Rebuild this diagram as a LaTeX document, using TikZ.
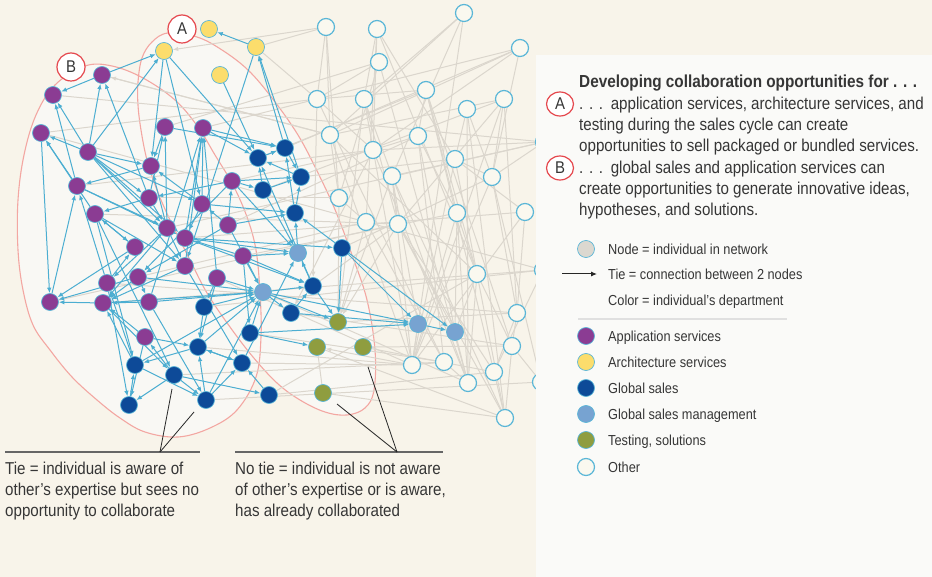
\documentclass[tikz,border=0pt]{standalone}
\usepackage{fontspec}
\newfontfamily\condf[FakeStretch=0.88]{Liberation Sans}
\usetikzlibrary{arrows.meta,shapes.geometric}
\definecolor{bgc}{HTML}{F8F4EA}
\definecolor{panelc}{HTML}{FAFAF8}
\definecolor{ellfill}{HTML}{F9F8F4}
\definecolor{ellline}{HTML}{F3A7A2}
\definecolor{labred}{HTML}{E5474D}
\definecolor{appc}{HTML}{8B3C93}
\definecolor{archc}{HTML}{FCDD6C}
\definecolor{gsc}{HTML}{0D4A98}
\definecolor{gsmc}{HTML}{77A3D1}
\definecolor{testc}{HTML}{8F9D3F}
\definecolor{othc}{HTML}{FAF8EF}
\definecolor{ringc}{HTML}{5AB6D7}
\definecolor{tiec}{HTML}{4CAED1}
\definecolor{grayt}{HTML}{DBD6CD}
\definecolor{txtc}{HTML}{363636}
\definecolor{nodegray}{HTML}{DCD8D0}
\pgfdeclarelayer{ell}
\pgfdeclarelayer{gedge}
\pgfdeclarelayer{bedge}
\pgfdeclarelayer{front}
\pgfsetlayers{ell,gedge,bedge,main,front}
\tikzset{
  nd/.style={circle, minimum size=17pt, inner sep=0pt, draw=ringc, line width=0.7pt},
  app/.style={nd, fill=appc},
  arch/.style={nd, fill=archc},
  gs/.style={nd, fill=gsc},
  gsm/.style={nd, fill=gsmc},
  tst/.style={nd, fill=testc},
  oth/.style={nd, fill=othc, line width=1.2pt},
  gry/.style={nd, fill=nodegray},
  tie/.style={draw=tiec, line width=1pt, -{Latex[length=5.5pt,width=4.5pt]}},
  gtie/.style={draw=grayt, line width=1pt},
  gtiea/.style={draw=grayt, line width=1pt, -{Latex[length=5.5pt,width=4.5pt]}},
  lab/.style={circle, draw=labred, line width=1.2pt, fill=white, minimum size=28pt, inner sep=0pt, text=txtc, font=\condf\fontsize{17}{17}\selectfont},
  leglab/.style={ellipse, draw=labred, line width=1.2pt, fill=white, minimum width=27pt, minimum height=24pt, inner sep=0pt, text=txtc, font=\condf\fontsize{17}{17}\selectfont},
  txt/.style={anchor=base west, inner sep=0pt, text=txtc, font=\condf\fontsize{17.2}{21}\selectfont},
  hdr/.style={txt, font=\condf\bfseries\fontsize{17.4}{21}\selectfont},
  legtxt/.style={anchor=base west, inner sep=0pt, text=txtc, font=\condf\fontsize{14.5}{17}\selectfont},
  leader/.style={draw=black!85, line width=0.8pt},
  rule/.style={draw=black!60, line width=1.4pt},
}
\begin{document}
\begin{tikzpicture}[x=1pt,y=-1pt]
\useasboundingbox (0,0) rectangle (932,577);
\begin{pgfonlayer}{ell}
\fill[bgc] (0,0) rectangle (932,577);
\fill[ellfill] plot[smooth cycle, tension=0.6] coordinates {(85,66) (112,66) (143,78) (175,100) (198,127) (215,155) (233,185) (247,217) (256,250) (260,293) (261,337) (256,377) (237,410) (210,428) (178,437) (145,432) (120,418) (97,400) (72,377) (50,350) (33,325) (23,290) (18,250) (18,200) (24,155) (36,115) (55,85)};
\fill[ellfill] plot[smooth cycle, tension=0.6] coordinates {(168,33) (152,42) (142,58) (138,82) (138,105) (141,130) (147,160) (157,190) (170,220) (190,260) (207,293) (230,327) (253,357) (277,383) (300,400) (325,412) (347,415) (365,408) (374,390) (375,350) (367,300) (352,255) (336,212) (319,175) (298,135) (272,98) (248,70) (222,50) (197,37)};
\draw[ellline, line width=1.1pt] plot[smooth cycle, tension=0.6] coordinates {(85,66) (112,66) (143,78) (175,100) (198,127) (215,155) (233,185) (247,217) (256,250) (260,293) (261,337) (256,377) (237,410) (210,428) (178,437) (145,432) (120,418) (97,400) (72,377) (50,350) (33,325) (23,290) (18,250) (18,200) (24,155) (36,115) (55,85)};
\draw[ellline, line width=1.1pt] plot[smooth cycle, tension=0.6] coordinates {(168,33) (152,42) (142,58) (138,82) (138,105) (141,130) (147,160) (157,190) (170,220) (190,260) (207,293) (230,327) (253,357) (277,383) (300,400) (325,412) (347,415) (365,408) (374,390) (375,350) (367,300) (352,255) (336,212) (319,175) (298,135) (272,98) (248,70) (222,50) (197,37)};
\end{pgfonlayer}
% nodes
\foreach \n/\x/\y in {Y1/209/29, Y2/164/51, Y3/256/47, Y4/220/75}
  \node[arch] (\n) at (\x,\y) {};
\foreach \n/\x/\y in {P1/102/75, P2/53/95, P3/41/133, P4/88/152, P5/165/127, P6/203/128, P7/151/166, P8/77/186, P9/95/214, P10/149/198, P11/202/204, P12/232/181, P13/167/228, P14/185/238, P15/228/225, P16/135/247, P17/243/256, P18/185/266, P19/138/277, P20/217/278, P21/107/283, P22/149/302, P23/50/302, P24/103/303, P25/145/337}
  \node[app] (\n) at (\x,\y) {};
\foreach \n/\x/\y in {G1/204/307, G2/250/333, G3/198/347, G4/135/365, G5/174/375, G6/242/363, G7/129/405, G8/206/400, G9/269/395, G10/295/213, G11/313/286, G12/291/313, G13/258/158, G14/285/148, G15/301/177, G16/263/190, G17/342/248}
  \node[gs] (\n) at (\x,\y) {};
\foreach \n/\x/\y in {L1/298/253, L2/263/292, L3/418/324, L4/455/332}
  \node[gsm] (\n) at (\x,\y) {};
\foreach \n/\x/\y in {T1/338/322, T2/317/347, T3/363/347, T4/323/393}
  \node[tst] (\n) at (\x,\y) {};
\foreach \n/\x/\y in {O1/326/27, O2/377/29, O3/464/13, O4/379/62, O5/520/48, O6/317/99, O7/364/99, O8/426/90, O9/467/109, O10/504/99, O11/330/135, O12/373/150, O13/418/136, O14/455/159, O15/392/176, O16/492/177, O17/339/198, O18/525/212, O19/457/213, O20/366/222, O21/398/224, O22/477/274, O23/543/270, O24/517/313, O25/512/346, O26/412/365, O27/444/362, O28/468/383, O29/494/372, O30/541/382, O31/505/418, O32/544/142}
  \node[oth] (\n) at (\x,\y) {};
% gray ties
\begin{pgfonlayer}{gedge}
\foreach \a/\b in {O1/O6, O1/O11, O1/O17, O2/O7, O2/O12, O2/O14, O2/O22, O2/O20, O3/O7, O3/O15, O3/O11, O3/O26, O4/O17, O4/O6, O5/O16, O5/O12, O5/O6, O5/O11, O6/P3, O7/O21, O7/O26, O7/O28, O8/O13, O8/O19, O8/O25, O8/O22, O8/O6, O9/O16, O9/O14, O9/O28, O9/O31, O10/O11, O10/O24, O10/O16, O10/O26, O11/O17, O11/O26, O12/O13, O12/O6, O13/O19, O13/O27, O14/O16, O14/O18, O14/O22, O15/O21, O15/O26, O15/O31, O16/O24, O16/O30, O17/O20, O18/O24, O19/O22, O19/O28, O20/O27, O21/O31, O21/O29, O22/O28, O22/O25, O22/O31, O24/O25, O24/O29, O25/O30, O25/O31, O26/O27, O27/O28, O29/O31, O23/O29, O23/O20, O32/O16, O32/O12, O32/O15, O18/O26, O19/O26, O12/O28, O4/O28, O8/O29, O6/O27, O11/O22, O14/O26, O10/O21, O16/O26, P6/O6, P12/O12, P15/O13, P17/O19, P20/O26, G6/O26, G9/O22, G2/O27, P14/O18, G12/O25, L2/O28, G11/O21, T3/O29, T2/O31, T4/O31, T4/T2, G5/O27, G8/O30, P21/O24, P5/O4, G13/O8, G15/O14, G17/O16, L4/O22, L4/O19, L4/O13, L4/O21, L3/O15, L3/O26, L4/O28, T1/O24, T3/O25, G9/O29, P24/O23, P19/O20, P23/O21, G3/O26, G1/O23, P10/O17, P13/O32, G16/O10, G14/O5, Y3/O1, Y3/O6, P3/O20, P8/O12, P9/O21, P2/O32, P1/O11}
  \draw[gtie] (\a) -- (\b);
\foreach \a/\b in {O1/Y2, O11/P1, O17/T1, O20/T1, O15/T1, O21/T1, O26/T2, O7/T1, O12/G12, O6/G11}
  \draw[gtiea] (\a) -- (\b);
\end{pgfonlayer}
% blue ties
\begin{pgfonlayer}{bedge}
\foreach \a/\b in {Y3/Y1, P1/P2, P1/Y2, P4/P1, P4/P2, P4/P3, P4/Y2, P8/P3, P8/P2, P9/P3, P10/P1, Y2/P7, Y2/P11, Y2/G13, Y4/G13, G14/Y3, G15/Y3, Y3/P18, P5/P7, P13/P5, P10/P5, P18/P6, P14/P6, P11/P6, P20/P6, P22/P6, P6/G13, P6/G14, P5/G14, P4/P7, P4/P13, P4/P14, P4/P11, P4/P18, P4/P10, P8/P13, P8/P14, P9/P18, P9/P16, P7/P8, P10/P9, P11/P7, P12/G16, P12/P10, P12/P19, P15/P11, P15/P19, G13/G14, G16/G13, G15/G13, G10/G15, G10/G14, G17/G10, L1/G10, G11/G13, P13/P21, P13/P24, P14/L1, P14/G17, P15/L2, P17/L2, P17/L1, P20/L2, P18/P24, P16/P23, P21/P16, P24/P23, P22/P24, P25/P24, P19/P24, G4/P24, G4/P21, G5/P25, P25/G7, P9/G4, P9/G5, G5/G7, G5/G8, G3/G4, G3/G6, G3/L2, G1/G3, G6/G3, G2/T2, G2/L2, G9/G6, L2/G12, L2/G11, L2/T1, G17/T1, G11/T1, G17/L3, G17/L4, L3/L4, L2/L3, G11/L1, G12/G11, G1/L2, G8/G6, G4/G8, P23/P8, P19/P22, P25/G3, P13/P18, P10/P13, P17/P14, P15/P12, P3/P23, P20/G1, P17/G2, G6/L1, G8/L2, G4/L2, P22/L2, P19/L2, P24/L2, P14/G11, P15/G10, P12/L1, G16/L1, P11/G10, G2/L3, G12/L3, P21/G7, P16/P9, P11/P14, P13/P7, P18/G6, P21/P8, G7/G4, G8/G3, P12/G15, G14/G15, G16/G15, P17/G11, P19/P23, P24/G5, P22/G8, P20/G3, G5/G9}
  \draw[tie] (\a) -- (\b);
\end{pgfonlayer}
% region labels
\node[lab] (labA) at (182,29) {A};
\node[lab] (labB) at (71,67) {B};
% callouts
\coordinate (r1a) at (5,452); \coordinate (r1b) at (200,452); \coordinate (k1) at (160,452);
\coordinate (e1a) at (172,389); \coordinate (e1b) at (194,412);
\draw[rule] (r1a) -- (r1b);
\draw[leader] (k1) -- (e1a);
\draw[leader] (k1) -- (e1b);
\coordinate (r2a) at (235,452); \coordinate (r2b) at (443,452); \coordinate (k2) at (397,452);
\coordinate (e2a) at (337,404); \coordinate (e2b) at (368,367);
\draw[rule] (r2a) -- (r2b);
\draw[leader] (k2) -- (e2a);
\draw[leader] (k2) -- (e2b);
\node[txt] (bl1) at (5,474) {Tie = individual is aware of};
\node[txt] (bl2) at (5,495) {other’s expertise but sees no};
\node[txt] (bl3) at (5,516) {opportunity to collaborate};
\node[txt] (br1) at (235,474) {No tie = individual is not aware};
\node[txt] (br2) at (235,495) {of other’s expertise or is aware,};
\node[txt] (br3) at (235,516) {has already collaborated};
% legend
\begin{pgfonlayer}{front}
\fill[panelc] (536,55) rectangle (932,577);
\node[hdr] (h1) at (579,88) {Developing collaboration opportunities for . . .};
\node[leglab] (lA) at (560,104) {A};
\node[txt] (h2) at (579,109.5) {. . .\hspace{0.45em}application services, architecture services, and};
\node[txt] (h3) at (579,131) {testing during the sales cycle can create};
\node[txt] (h4) at (579,152) {opportunities to sell packaged or bundled services.};
\node[leglab] (lB) at (560,168) {B};
\node[txt] (h5) at (579,173.5) {. . .\hspace{0.45em}global sales and application services can};
\node[txt] (h6) at (579,195) {create opportunities to generate innovative ideas,};
\node[txt] (h7) at (579,216) {hypotheses, and solutions.};
\node[gry] (kn) at (586,249) {};
\node[legtxt] (tn) at (608,255) {Node = individual in network};
\coordinate (ka1) at (562,274); \coordinate (ka2) at (597,274);
\draw[black!85, line width=1pt, -{Latex[length=6pt,width=5pt]}] (ka1) -- (ka2);
\node[legtxt] (tt) at (608,280) {Tie = connection between 2 nodes};
\node[legtxt] (tc) at (608,306) {Color = individual’s department};
\coordinate (s1) at (578,319); \coordinate (s2) at (787,319);
\draw[black!12, line width=1.2pt] (s1) -- (s2);
\node[app] (k1n) at (586,336) {};
\node[legtxt] (t1) at (608,341.5) {Application services};
\node[arch] (k2n) at (586,362) {};
\node[legtxt] (t2) at (608,367.5) {Architecture services};
\node[gs] (k3n) at (586,388) {};
\node[legtxt] (t3) at (608,393.5) {Global sales};
\node[gsm] (k4n) at (586,414) {};
\node[legtxt] (t4) at (608,419.5) {Global sales management};
\node[tst] (k5n) at (586,440) {};
\node[legtxt] (t5) at (608,445.5) {Testing, solutions};
\node[oth] (k6n) at (586,467) {};
\node[legtxt] (t6) at (608,472.5) {Other};
\end{pgfonlayer}
\end{tikzpicture}
\end{document}
